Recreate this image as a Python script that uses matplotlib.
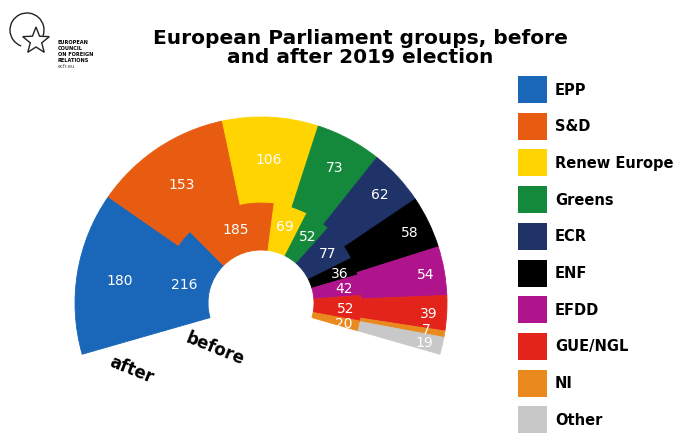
import numpy as np
import matplotlib
matplotlib.use("Agg")
import matplotlib.pyplot as plt
from matplotlib.patches import Wedge, Rectangle, Arc, Polygon

groups = ['EPP', 'S&D', 'Renew Europe', 'Greens', 'ECR', 'ENF', 'EFDD', 'GUE/NGL', 'NI', 'Other']
after = [180, 153, 106, 73, 62, 58, 54, 39, 7, 19]
before = [216, 185, 69, 52, 77, 36, 42, 52, 20, 0]
colors = ['#1a66b8', '#e85c12', '#ffd400', '#15893b', '#1f3369', '#000000',
          '#b0148c', '#e3241b', '#ea8a1e', '#c8c8c8']

fig = plt.figure(figsize=(6.82, 4.44), dpi=100)
ax = fig.add_axes([0, 0, 1, 1])
ax.set_xlim(0, 682)
ax.set_ylim(0, 444)
ax.set_aspect('equal')
ax.axis('off')

cx, cy = 261, 141
start, end = 196, -16
span = start - end
r_hole, r_mid, r_out = 53, 100, 186


def ring(values, r, width, label_r):
    total = sum(values)
    pos = start
    for v, c in zip(values, colors):
        if v == 0:
            continue
        a = v * span / total
        ax.add_patch(Wedge((cx, cy), r, pos - a, pos, width=width,
                           facecolor=c, edgecolor=c, lw=0.6))
        # tiny slices get their number nudged a little toward the previous slice
        mid = np.radians(pos - a / 2 if v >= 10 else pos - a / 2 + 0.8)
        lr = label_r(mid)
        ax.text(cx + lr * np.cos(mid), cy + lr * np.sin(mid), str(v), color='white',
                fontsize=10, ha='center', va='center_baseline')
        pos -= a


ring(after, r_out, r_out - r_mid, lambda m: 143 + 25 * max(0, np.cos(m)))
ring(before, r_mid, r_mid - r_hole, lambda m: 79 + 6 * max(0, np.cos(m)))

ax.text(131, 74, 'after', fontsize=12, fontweight='bold', rotation=-22,
        ha='center', va='center')
ax.text(215, 95, 'before', fontsize=12, fontweight='bold', rotation=-22,
        ha='center', va='center')

# title
ax.text(360, 396, 'European Parliament groups, before\nand after 2019 election',
        fontsize=14.5, fontweight='bold', ha='center', va='center', linespacing=1.05)

# legend
for i, (g, c) in enumerate(zip(groups, colors)):
    y = 354 - i * 36.7
    ax.add_patch(Rectangle((518, y - 13), 29, 27, color=c, lw=0))
    ax.text(555, y, g, fontsize=10.5, fontweight='bold', ha='left', va='center')

# logo
ax.add_patch(Arc((27, 414), 34, 34, theta1=-20, theta2=250, lw=1, color='#222222'))
ang = np.radians(90 + np.arange(10) * 36)
rad = np.where(np.arange(10) % 2 == 0, 14, 6)
ax.add_patch(Polygon(np.c_[36 + rad * np.cos(ang), 403 + rad * np.sin(ang)],
                     closed=True, fill=True, facecolor='white', edgecolor='#222222', lw=1))
for j, t in enumerate(['EUROPEAN', 'COUNCIL', 'ON FOREIGN', 'RELATIONS']):
    ax.text(58, 402 - j * 6, t, fontsize=3.6, fontweight='bold', ha='left', va='center')
ax.text(58, 378, 'ecfr.eu', fontsize=3.6, ha='left', va='center', color='#444444')

fig.savefig('out.png', dpi=100)
